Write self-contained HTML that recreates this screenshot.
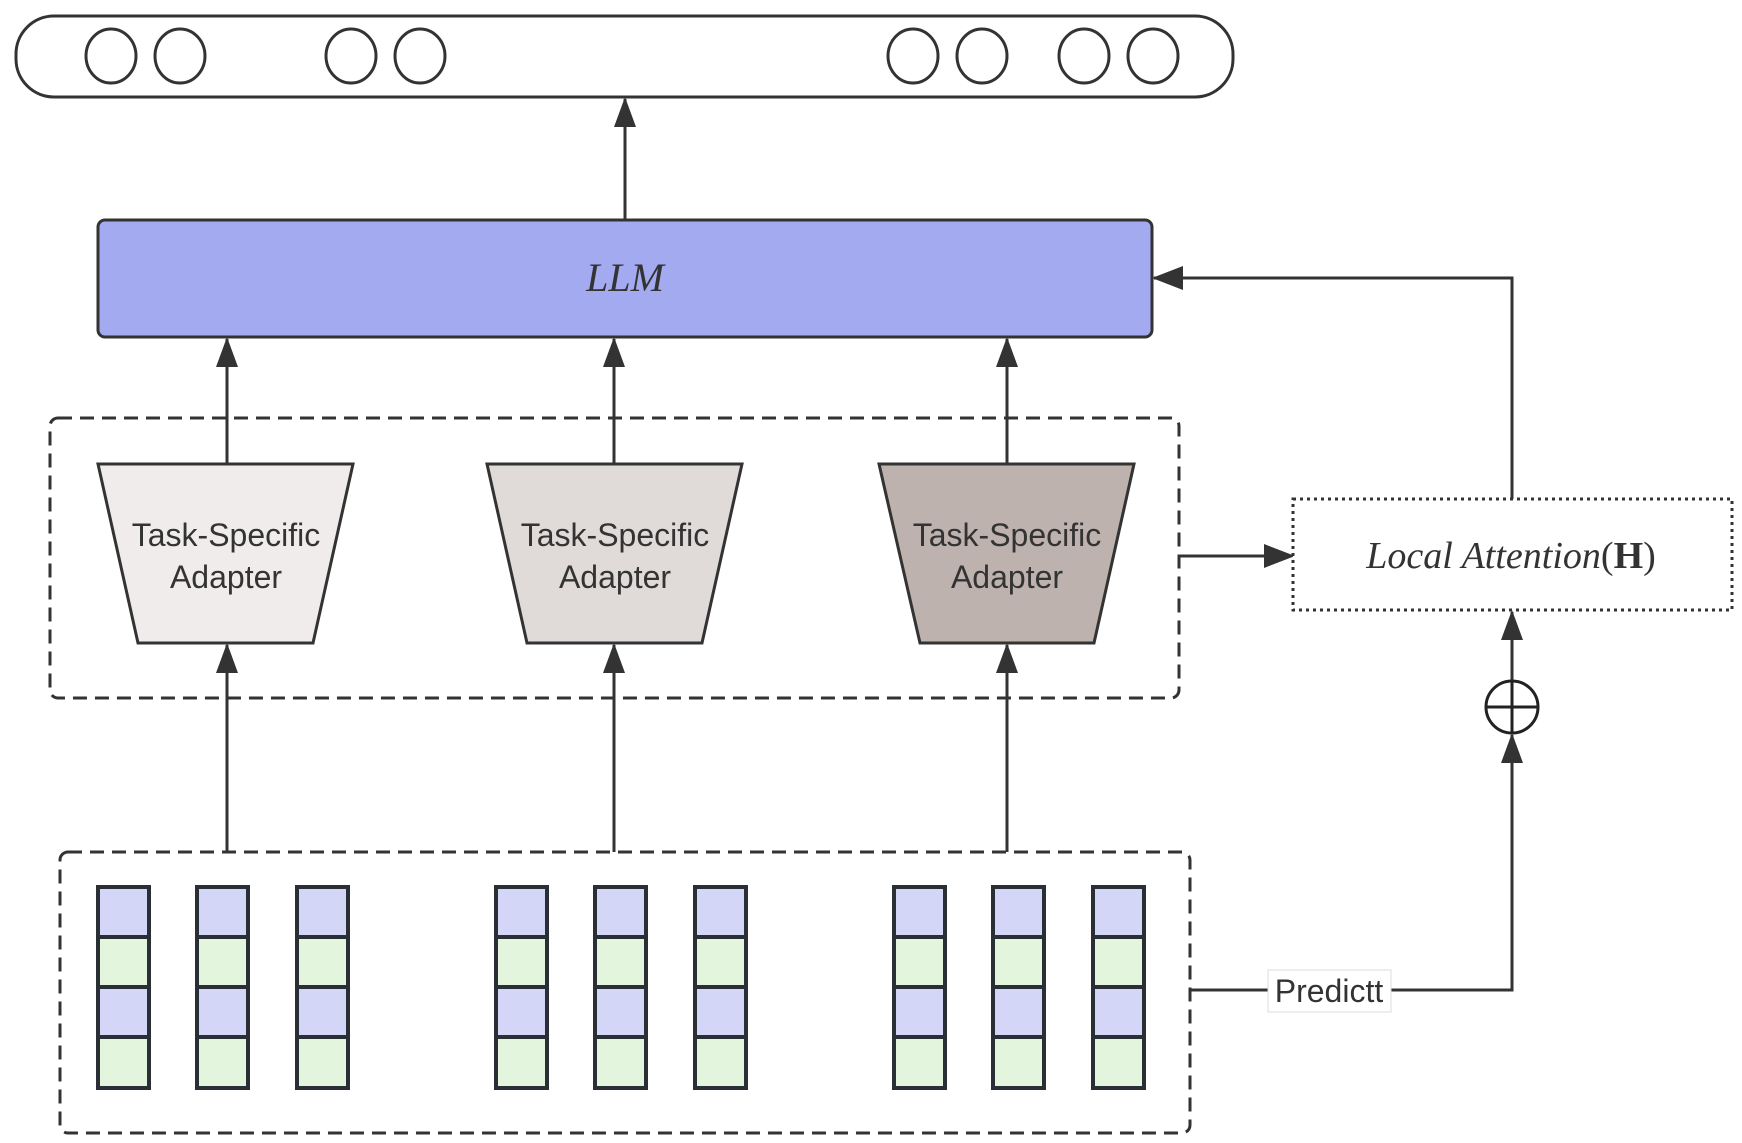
<!DOCTYPE html>
<html><head><meta charset="utf-8"><style>
html,body{margin:0;padding:0;background:#fff;}
svg{display:block;}
</style></head><body>
<svg width="1742" height="1143" viewBox="0 0 1742 1143" xmlns="http://www.w3.org/2000/svg">
<defs>
<marker id="ar" markerWidth="10" markerHeight="10" refX="9" refY="5" orient="auto" markerUnits="userSpaceOnUse" viewBox="0 0 10 10">
<path d="M0,0 L10,5 L0,10 z" fill="#333"/>
</marker>
</defs>
<g fill="none" stroke="#333" stroke-width="3">
<!-- top bar -->
<rect x="16" y="16" width="1217" height="81" rx="38" fill="#fff"/>
<g stroke-width="3">
<ellipse cx="111" cy="56" rx="25" ry="27"/><ellipse cx="180" cy="56" rx="25" ry="27"/>
<ellipse cx="351" cy="56" rx="25" ry="27"/><ellipse cx="420" cy="56" rx="25" ry="27"/>
<ellipse cx="913" cy="56" rx="25" ry="27"/><ellipse cx="982" cy="56" rx="25" ry="27"/>
<ellipse cx="1084" cy="56" rx="25" ry="27"/><ellipse cx="1153" cy="56" rx="25" ry="27"/>
</g>
</g>
<!-- arrows (lines) -->
<g stroke="#333" stroke-width="3" fill="none">
<line x1="625" y1="220" x2="625" y2="99"/>
<line x1="227" y1="464" x2="227" y2="339"/>
<line x1="614" y1="464" x2="614" y2="339"/>
<line x1="1007" y1="464" x2="1007" y2="339"/>
<line x1="227" y1="852" x2="227" y2="645"/>
<line x1="614" y1="852" x2="614" y2="645"/>
<line x1="1007" y1="852" x2="1007" y2="645"/>
<line x1="1179" y1="556" x2="1291" y2="556"/>
<polyline points="1512,499 1512,278 1154,278"/>
<polyline points="1190,990 1512,990 1512,735"/>
<line x1="1512" y1="681" x2="1512" y2="612"/>
</g>
<g fill="#333">
<path d="M625,97 l-11,30 h22 z"/>
<path d="M227,337 l-11,30 h22 z"/>
<path d="M614,337 l-11,30 h22 z"/>
<path d="M1007,337 l-11,30 h22 z"/>
<path d="M227,643 l-11,30 h22 z"/>
<path d="M614,643 l-11,30 h22 z"/>
<path d="M1007,643 l-11,30 h22 z"/>
<path d="M1295,556 l-31,-12 v24 z"/>
<path d="M1152,278 l31,-12 v24 z"/>
<path d="M1512,610 l-11,30 h22 z"/>
<path d="M1512,733 l-11,30 h22 z"/>
</g>
<!-- LLM -->
<rect x="98" y="220" width="1054" height="117" rx="7" fill="#a3aaf0" stroke="#333" stroke-width="3"/>
<text x="625" y="291" font-family="Liberation Serif, serif" font-style="italic" font-size="40" fill="#333" text-anchor="middle">LLM</text>
<!-- dashed box 1 -->
<rect x="50" y="418" width="1129" height="280" rx="8" fill="none" stroke="#333" stroke-width="3" stroke-dasharray="14,8"/>
<!-- adapters -->
<g stroke="#333" stroke-width="3">
<polygon points="98,464 353,464 313,643 138,643" fill="#f0ecec"/>
<polygon points="487,464 742,464 702,643 527,643" fill="#e0dad9"/>
<polygon points="879,464 1134,464 1094,643 920,643" fill="#bdb2ae"/>
</g>
<g font-family="Liberation Sans, sans-serif" font-size="32" fill="#333" text-anchor="middle">
<text x="226" y="546">Task-Specific</text><text x="226" y="588">Adapter</text>
<text x="615" y="546">Task-Specific</text><text x="615" y="588">Adapter</text>
<text x="1007" y="546">Task-Specific</text><text x="1007" y="588">Adapter</text>
</g>
<!-- Local attention -->
<rect x="1293" y="499" width="439" height="111" fill="#fff" stroke="#333" stroke-width="3" stroke-dasharray="3,4"/>
<text x="1511" y="568" font-family="Liberation Serif, serif" font-size="38" fill="#333" text-anchor="middle"><tspan font-style="italic">Local Attention</tspan><tspan>(</tspan><tspan font-weight="bold">H</tspan><tspan>)</tspan></text>
<!-- oplus -->
<circle cx="1512" cy="707" r="26" fill="#fff" stroke="#222" stroke-width="3"/>
<line x1="1486" y1="707" x2="1538" y2="707" stroke="#222" stroke-width="3"/>
<line x1="1512" y1="681" x2="1512" y2="733" stroke="#222" stroke-width="3"/>
<!-- bottom dashed box -->
<rect x="60" y="852" width="1130" height="281" rx="8" fill="none" stroke="#333" stroke-width="3" stroke-dasharray="14,8"/>
<!-- Predict label -->
<rect x="1268" y="970" width="123" height="42" fill="#fff" stroke="#ddd" stroke-width="1"/>
<text x="1329" y="1002" font-family="Liberation Sans, sans-serif" font-size="32" fill="#333" text-anchor="middle">Predictt</text>
<!-- token columns -->
<g stroke="#2a2f36" stroke-width="4">
<g id="col">
<rect x="98" y="887" width="51" height="50" fill="#d3d6f7"/>
<rect x="98" y="937" width="51" height="50" fill="#e3f5dc"/>
<rect x="98" y="987" width="51" height="50" fill="#d3d6f7"/>
<rect x="98" y="1037" width="51" height="51" fill="#e3f5dc"/>
</g>
<use href="#col" x="99"/><use href="#col" x="199"/>
<use href="#col" x="398"/><use href="#col" x="497"/><use href="#col" x="597"/>
<use href="#col" x="796"/><use href="#col" x="895"/><use href="#col" x="995"/>
</g>
</svg>
</body></html>
